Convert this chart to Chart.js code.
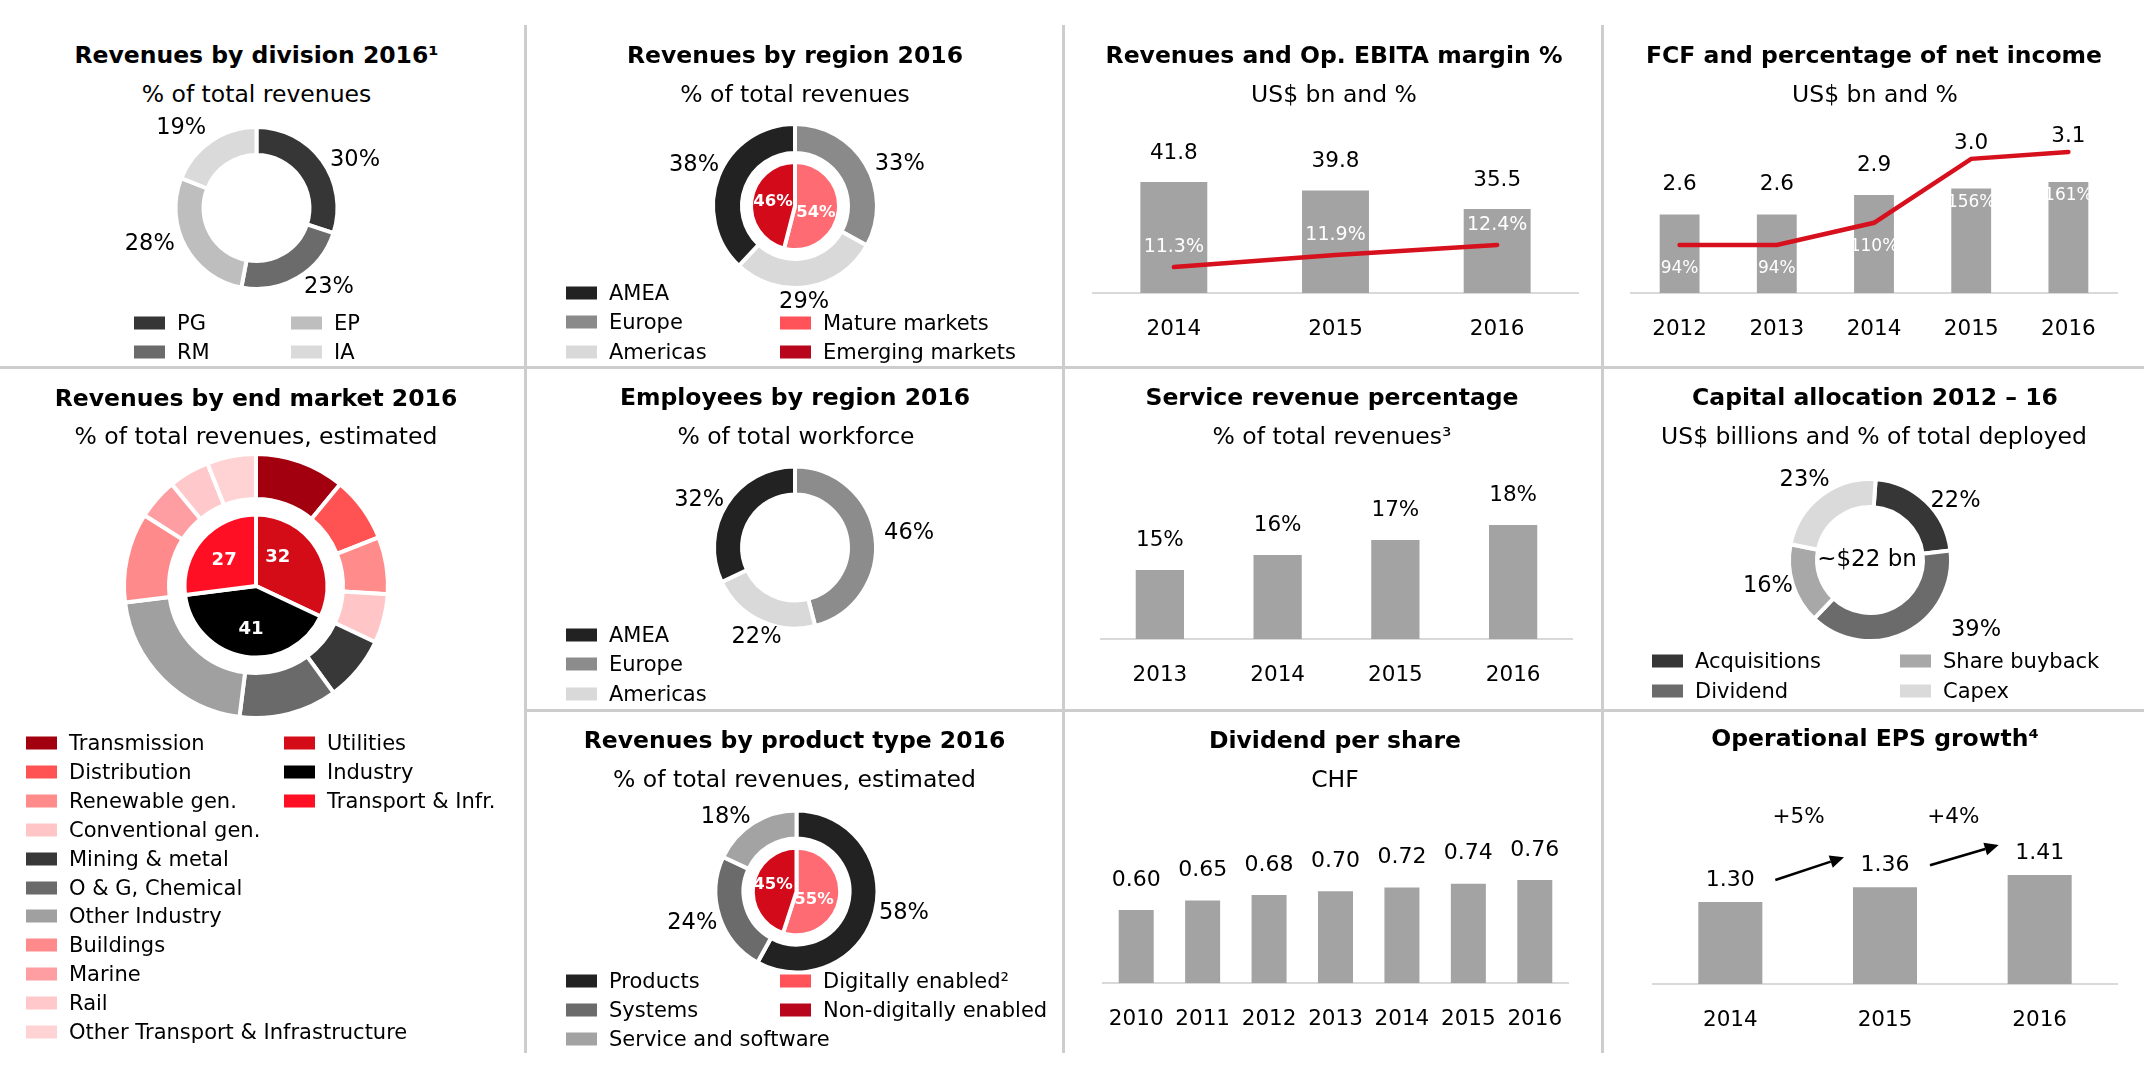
<!DOCTYPE html>
<html>
<head>
<meta charset="utf-8">
<title>Key figures 2016</title>
<script src="https://cdn.jsdelivr.net/npm/chart.js@4.4.1/dist/chart.umd.min.js"></script>
<style>
  html, body { margin:0; padding:0; background:#ffffff; }
  body { position:relative; width:2144px; height:1082px; overflow:hidden; font-family:"DejaVu Sans", sans-serif; color:#000; }
  canvas { position:absolute; left:0; top:0; }
  .ttl, .sub { position:absolute; white-space:nowrap; transform:translate(-50%,-50%); line-height:1; font-size:23.5px; }
  .ttl { font-weight:bold; }
  .lg { position:absolute; white-space:nowrap; transform:translateY(-50%); line-height:1; font-size:21px; display:flex; align-items:center; }
  .sw { display:inline-block; width:31px; height:13px; margin-right:12px; flex:none; }
  .rule { position:absolute; background:#cdcdcd; }
</style>
</head>
<body>
<div class="rule" style="left:524px;top:25px;width:3px;height:1028px"></div>
<div class="rule" style="left:1062px;top:25px;width:3px;height:1028px"></div>
<div class="rule" style="left:1601px;top:25px;width:3px;height:1028px"></div>
<div class="rule" style="left:0px;top:366px;width:2144px;height:3px"></div>
<div class="rule" style="left:524px;top:709px;width:1620px;height:3px"></div>
<script>
// ---------------- DATA ----------------
const divisionLabels = ['PG', 'RM', 'EP', 'IA'];
const divisionValues = [30, 23, 28, 19];

const regionLabels = ['Europe', 'Americas', 'AMEA'];
const regionValues = [33, 29, 38];
const marketTypeLabels = ['Mature markets', 'Emerging markets'];
const marketTypeValues = [54, 46];

const ebitaYears = ['2014', '2015', '2016'];
const revenuesBn = [41.8, 39.8, 35.5];
const ebitaMarginPct = [11.3, 11.9, 12.4];

const fcfYears = ['2012', '2013', '2014', '2015', '2016'];
const fcfBn = [2.6, 2.6, 2.9, 3.0, 3.1];
const fcfPctOfNetIncome = [94, 94, 110, 156, 161];

const endMarketLabels = ['Transmission', 'Distribution', 'Renewable gen.', 'Conventional gen.', 'Mining & metal',
  'O & G, Chemical', 'Other Industry', 'Buildings', 'Marine', 'Rail', 'Other Transport & Infrastructure'];
const endMarketValues = [11, 8, 7, 6, 8, 12, 21, 11, 5, 5, 6];
const endSectorLabels = ['Utilities', 'Industry', 'Transport & Infr.'];
const endSectorValues = [32, 41, 27];

const employeeLabels = ['Europe', 'Americas', 'AMEA'];
const employeeValues = [46, 22, 32];

const serviceYears = ['2013', '2014', '2015', '2016'];
const servicePct = [15, 16, 17, 18];

const capitalLabels = ['Acquisitions', 'Dividend', 'Share buyback', 'Capex'];
const capitalPct = [22, 39, 16, 23];
const capitalTotalText = '~$22 bn';

const productLabels = ['Products', 'Systems', 'Service and software'];
const productValues = [58, 24, 18];
const digitalLabels = ['Digitally enabled\u00B2', 'Non-digitally enabled'];
const digitalValues = [55, 45];

const dividendYears = ['2010', '2011', '2012', '2013', '2014', '2015', '2016'];
const dividendChf = [0.60, 0.65, 0.68, 0.70, 0.72, 0.74, 0.76];

const epsYears = ['2014', '2015', '2016'];
const epsValues = [1.30, 1.36, 1.41];
const epsGrowthLabels = ['+5%', '+4%'];

// ---------------- STYLE ----------------
const W = 2144, H = 1082;
const BAR = '#a3a3a3', RED = '#d6101d', AXIS = '#d9d9d9';
const FF = '"DejaVu Sans", sans-serif';
const font = (s, b) => (b ? 'bold ' : '') + s + 'px ' + FF;

Chart.defaults.font.family = FF;
Chart.defaults.color = '#000';
Chart.defaults.animation = false;
Chart.defaults.responsive = false;
Chart.defaults.maintainAspectRatio = false;
Chart.defaults.devicePixelRatio = 1;
Chart.defaults.events = [];
Chart.defaults.plugins.legend.display = false;
Chart.defaults.plugins.tooltip.enabled = false;

function newCanvas() {
  const c = document.createElement('canvas');
  c.width = W; c.height = H;
  c.style.width = W + 'px'; c.style.height = H + 'px';
  document.body.appendChild(c);
  return c;
}
function txt(ctx, s, x, y, f, color) {
  ctx.save();
  ctx.font = f; ctx.fillStyle = color;
  ctx.textAlign = 'center'; ctx.textBaseline = 'middle';
  ctx.fillText(s, x, y);
  ctx.restore();
}
function htmlText(cls, x, y, s) {
  const d = document.createElement('div');
  d.className = cls; d.style.left = x + 'px'; d.style.top = y + 'px';
  d.textContent = s;
  document.body.appendChild(d);
}
function legend(x, y0, step, items) {
  items.forEach((it, i) => {
    const d = document.createElement('div');
    d.className = 'lg';
    d.style.left = x + 'px'; d.style.top = (y0 + i * step) + 'px';
    const sw = document.createElement('span');
    sw.className = 'sw'; sw.style.background = it[1];
    d.appendChild(sw);
    d.appendChild(document.createTextNode(it[0]));
    document.body.appendChild(d);
  });
}

// label spec: {ds, texts, dist (number or array), nudge (deg array), font, color}
function arcLabelPlugin(specs, centerText) {
  return {
    id: 'arcLabels',
    afterDatasetsDraw(chart) {
      const ctx = chart.ctx;
      specs.forEach(s => {
        chart.getDatasetMeta(s.ds).data.forEach((arc, i) => {
          const p = arc.getProps(['x', 'y', 'startAngle', 'endAngle']);
          const a = (p.startAngle + p.endAngle) / 2 + ((s.nudge ? s.nudge[i] : 0) * Math.PI / 180);
          const d = Array.isArray(s.dist) ? s.dist[i] : s.dist;
          txt(ctx, s.texts[i], p.x + d * Math.cos(a), p.y + d * Math.sin(a), s.font, s.color);
        });
      });
      if (centerText) {
        const a0 = chart.getDatasetMeta(0).data[0];
        txt(ctx, centerText, a0.x - 3, a0.y, font(23), '#000');
      }
    }
  };
}

function doughnut(cfg) {
  const a = cfg.R + 12;
  return new Chart(newCanvas(), {
    type: 'doughnut',
    data: { datasets: cfg.datasets },
    options: {
      radius: cfg.R,
      cutout: cfg.cutout || 0,
      rotation: cfg.rotation || 0,
      layout: { padding: { left: cfg.cx - a, right: W - cfg.cx - a, top: cfg.cy - a, bottom: H - cfg.cy - a } }
    },
    plugins: [arcLabelPlugin(cfg.labels, cfg.centerText)]
  });
}
const ring = (data, colors, weight) => ({ data, backgroundColor: colors, borderColor: '#ffffff', borderWidth: 4, weight });
const spacer = (weight) => ({ data: [1], backgroundColor: 'rgba(0,0,0,0)', borderWidth: 0, weight });
const pct = v => v + '%';

function xAxis() {
  return {
    type: 'category', offset: true,
    grid: { display: true, color: 'rgba(0,0,0,0)', drawTicks: false, drawOnChartArea: false },
    border: { display: true, color: AXIS, width: 2 },
    ticks: { font: { size: 21.5 }, color: '#000', padding: 24, maxRotation: 0, autoSkip: false },
    afterFit(s) { s.height = 64; }
  };
}
function barPadding(x1, x2, top, base) {
  return { left: x1, right: W - x2, top: top, bottom: H - base - 64 };
}

// ---------------- PANEL 1: Revenues by division ----------------
htmlText('ttl', 256.5, 56, 'Revenues by division 2016\u00B9');
htmlText('sub', 256.5, 95, '% of total revenues');
doughnut({
  cx: 256.5, cy: 208, R: 81, cutout: '65.4%',
  datasets: [ring(divisionValues, ['#363636', '#6b6b6b', '#bebebe', '#dadada'])],
  labels: [{ ds: 0, texts: divisionValues.map(pct), dist: [109.6, 107, 112.7, 110], nudge: [10, -12, 10, -9], font: font(22.5), color: '#000' }]
});
legend(134, 322.5, 29.5, [[divisionLabels[0], '#363636'], [divisionLabels[1], '#6b6b6b']]);
legend(291, 322.5, 29.5, [[divisionLabels[2], '#bebebe'], [divisionLabels[3], '#dadada']]);

// ---------------- PANEL 2: Revenues by region ----------------
htmlText('ttl', 795, 56, 'Revenues by region 2016');
htmlText('sub', 795, 95, '% of total revenues');
doughnut({
  cx: 795, cy: 206, R: 82,
  datasets: [
    ring(regionValues, ['#8a8a8a', '#d9d9d9', '#222222'], 29),
    spacer(9),
    ring(marketTypeValues, ['#ff6b73', '#d30a19'], 44)
  ],
  labels: [
    { ds: 0, texts: regionValues.map(pct), dist: [112.7, 96.4, 109], nudge: [9, 3.6, 0.5], font: font(22.5), color: '#000' },
    { ds: 2, texts: marketTypeValues.map(pct), dist: [22, 22.4], nudge: [11, 3], font: font(16.5, true), color: '#fff' }
  ]
});
legend(566, 293, 29.4, [[regionLabels[2], '#222222'], [regionLabels[0], '#8a8a8a'], [regionLabels[1], '#d9d9d9']]);
legend(780, 322.5, 29.4, [[marketTypeLabels[0], '#ff5259'], [marketTypeLabels[1], '#b8061c']]);

// ---------------- PANEL 3: Revenues and Op. EBITA margin ----------------
htmlText('ttl', 1334, 56, 'Revenues and Op. EBITA margin %');
htmlText('sub', 1334, 95, 'US$ bn and %');
new Chart(newCanvas(), {
  type: 'bar',
  data: {
    labels: ebitaYears,
    datasets: [
      { type: 'line', data: ebitaMarginPct, yAxisID: 'y2', borderColor: RED, borderWidth: 4.5, pointRadius: 0, tension: 0, order: 0, borderCapStyle: 'round' },
      { type: 'bar', data: revenuesBn, yAxisID: 'y', backgroundColor: BAR, barPercentage: 0.414, categoryPercentage: 1, order: 1 }
    ]
  },
  options: {
    layout: { padding: barPadding(1093, 1578, 120, 293) },
    scales: {
      x: xAxis(),
      y: { display: false, min: 16, max: 56.2 },
      y2: { display: false, position: 'right', min: 10, max: 18.65 }
    }
  },
  plugins: [{
    id: 'p3', afterDatasetsDraw(chart) {
      chart.getDatasetMeta(1).data.forEach((b, i) => txt(chart.ctx, revenuesBn[i].toFixed(1), b.x, b.y - 29, font(21.5), '#000'));
      chart.getDatasetMeta(0).data.forEach((p, i) => txt(chart.ctx, ebitaMarginPct[i].toFixed(1) + '%', p.x, p.y - 20, font(19), '#fff'));
    }
  }]
});

// ---------------- PANEL 4: FCF ----------------
htmlText('ttl', 1874, 56, 'FCF and percentage of net income');
htmlText('sub', 1875, 95, 'US$ bn and %');
new Chart(newCanvas(), {
  type: 'bar',
  data: {
    labels: fcfYears,
    datasets: [
      { type: 'line', data: fcfPctOfNetIncome, yAxisID: 'y2', borderColor: RED, borderWidth: 4.5, pointRadius: 0, tension: 0, order: 0, borderCapStyle: 'round' },
      { type: 'bar', data: fcfBn, yAxisID: 'y', backgroundColor: BAR, barPercentage: 0.41, categoryPercentage: 1, order: 1 }
    ]
  },
  options: {
    layout: { padding: barPadding(1631, 2117, 120, 293) },
    scales: {
      x: xAxis(),
      y: { display: false, min: 1.4, max: 4.047 },
      y2: { display: false, position: 'right', min: 59.5, max: 183.96 }
    }
  },
  plugins: [{
    id: 'p4', afterDatasetsDraw(chart) {
      const bars = chart.getDatasetMeta(1).data, pts = chart.getDatasetMeta(0).data;
      bars.forEach((b, i) => {
        const p = pts[i];
        txt(chart.ctx, fcfBn[i].toFixed(1), b.x, Math.min(b.y - 30, p.y - 15), font(21.5), '#000');
        txt(chart.ctx, fcfPctOfNetIncome[i] + '%', b.x, Math.max(p.y + 24, b.y + 14), font(17), '#fff');
      });
    }
  }]
});

// ---------------- PANEL 5: End market ----------------
htmlText('ttl', 256, 398.5, 'Revenues by end market 2016');
htmlText('sub', 256, 437, '% of total revenues, estimated');
const endMarketColors = ['#a3000f', '#ff5252', '#ff8b8b', '#ffc5c7', '#383838', '#6a6a6a', '#a0a0a0', '#ff8a8c', '#ff9ea2', '#ffc8cb', '#ffd2d4'];
const endSectorColors = ['#d40c18', '#000000', '#ff0f24'];
doughnut({
  cx: 256, cy: 586, R: 132,
  datasets: [
    ring(endMarketValues, endMarketColors, 45),
    spacer(15.5),
    ring(endSectorValues, endSectorColors, 71.5)
  ],
  labels: [
    { ds: 2, texts: endSectorValues.map(String), dist: [35.6, 44, 41], nudge: [-20, -2.5, -2.4], font: font(18, true), color: '#fff' }
  ]
});
legend(26, 743, 28.9, endMarketLabels.map((l, i) => [l, endMarketColors[i]]));
legend(284, 743, 28.9, endSectorLabels.map((l, i) => [l, endSectorColors[i]]));

// ---------------- PANEL 6: Employees ----------------
htmlText('ttl', 795, 398, 'Employees by region 2016');
htmlText('sub', 796, 437, '% of total workforce');
doughnut({
  cx: 795, cy: 547.5, R: 81, cutout: '65.4%',
  datasets: [ring(employeeValues, ['#8c8c8c', '#d9d9d9', '#222222'])],
  labels: [{ ds: 0, texts: employeeValues.map(pct), dist: [115, 97.6, 107], nudge: [0, -2, -6], font: font(22.5), color: '#000' }]
});
legend(566, 635, 29.3, [[employeeLabels[2], '#222222'], [employeeLabels[0], '#8c8c8c'], [employeeLabels[1], '#d9d9d9']]);

// ---------------- PANEL 7: Service revenue ----------------
htmlText('ttl', 1332, 398, 'Service revenue percentage');
htmlText('sub', 1332, 437, '% of total revenues\u00B3');
new Chart(newCanvas(), {
  type: 'bar',
  data: { labels: serviceYears, datasets: [{ data: servicePct, backgroundColor: BAR, barPercentage: 0.41, categoryPercentage: 1 }] },
  options: {
    layout: { padding: barPadding(1101, 1572, 480, 639) },
    scales: { x: xAxis(), y: { display: false, min: 10.4, max: 21 } }
  },
  plugins: [{
    id: 'p7', afterDatasetsDraw(chart) {
      chart.getDatasetMeta(0).data.forEach((b, i) => txt(chart.ctx, servicePct[i] + '%', b.x, b.y - 30, font(21.5), '#000'));
    }
  }]
});

// ---------------- PANEL 8: Capital allocation ----------------
htmlText('ttl', 1875, 398, 'Capital allocation 2012 \u2013 16');
htmlText('sub', 1874, 437, 'US$ billions and % of total deployed');
doughnut({
  cx: 1870, cy: 560, R: 81, cutout: '65.4%', rotation: 4,
  datasets: [ring(capitalPct, ['#363636', '#6b6b6b', '#a8a8a8', '#dadada'])],
  labels: [{ ds: 0, texts: capitalPct.map(pct), dist: [103.7, 127, 105.5, 103], nudge: [12, -30, 3, -2], font: font(22.5), color: '#000' }],
  centerText: capitalTotalText
});
legend(1652, 660.5, 30, [[capitalLabels[0], '#363636'], [capitalLabels[1], '#6b6b6b']]);
legend(1900, 660.5, 30, [[capitalLabels[2], '#a8a8a8'], [capitalLabels[3], '#dadada']]);

// ---------------- PANEL 9: Product type ----------------
htmlText('ttl', 794.5, 741, 'Revenues by product type 2016');
htmlText('sub', 794.5, 780, '% of total revenues, estimated');
doughnut({
  cx: 796.5, cy: 891.5, R: 81,
  datasets: [
    ring(productValues, ['#222222', '#6b6b6b', '#a3a3a3'], 28),
    spacer(9.3),
    ring(digitalValues, ['#ff6b73', '#d30a19'], 43.7)
  ],
  labels: [
    { ds: 0, texts: productValues.map(pct), dist: [109.6, 109, 103], nudge: [-3, 1, -11], font: font(22.5), color: '#000' },
    { ds: 2, texts: digitalValues.map(pct), dist: [19.5, 24.4], nudge: [17, 6.5], font: font(16.5, true), color: '#fff' }
  ]
});
legend(566, 981, 28.8, productLabels.map((l, i) => [l, ['#222222', '#6b6b6b', '#a3a3a3'][i]]));
legend(780, 981, 28.8, [[digitalLabels[0], '#ff5259'], [digitalLabels[1], '#b8061c']]);

// ---------------- PANEL 10: Dividend ----------------
htmlText('ttl', 1335, 741, 'Dividend per share');
htmlText('sub', 1335, 780, 'CHF');
new Chart(newCanvas(), {
  type: 'bar',
  data: { labels: dividendYears, datasets: [{ data: dividendChf, backgroundColor: BAR, barPercentage: 0.527, categoryPercentage: 1 }] },
  options: {
    layout: { padding: barPadding(1103, 1568, 830, 983) },
    scales: { x: xAxis(), y: { display: false, min: 0.21, max: 1.026 } }
  },
  plugins: [{
    id: 'p10', afterDatasetsDraw(chart) {
      chart.getDatasetMeta(0).data.forEach((b, i) => txt(chart.ctx, dividendChf[i].toFixed(2), b.x, b.y - 30, font(22), '#000'));
    }
  }]
});

// ---------------- PANEL 11: EPS ----------------
htmlText('ttl', 1875, 739, 'Operational EPS growth\u2074');
function arrow(ctx, x1, y1, x2, y2) {
  ctx.save();
  ctx.strokeStyle = '#000'; ctx.fillStyle = '#000'; ctx.lineWidth = 2.6;
  const ang = Math.atan2(y2 - y1, x2 - x1), hl = 14, hw = 6.5;
  const bx = x2 - hl * Math.cos(ang), by = y2 - hl * Math.sin(ang);
  ctx.beginPath(); ctx.moveTo(x1, y1); ctx.lineTo(bx, by); ctx.stroke();
  ctx.beginPath(); ctx.moveTo(x2, y2);
  ctx.lineTo(bx - hw * Math.sin(ang), by + hw * Math.cos(ang));
  ctx.lineTo(bx + hw * Math.sin(ang), by - hw * Math.cos(ang));
  ctx.closePath(); ctx.fill();
  ctx.restore();
}
new Chart(newCanvas(), {
  type: 'bar',
  data: { labels: epsYears, datasets: [{ data: epsValues, backgroundColor: BAR, barPercentage: 0.414, categoryPercentage: 1 }] },
  options: {
    layout: { padding: barPadding(1653, 2117, 830, 984) },
    scales: { x: xAxis(), y: { display: false, min: 0.965, max: 1.5936 } }
  },
  plugins: [{
    id: 'p11', afterDatasetsDraw(chart) {
      const bars = chart.getDatasetMeta(0).data;
      const topMost = Math.min(...bars.map(b => b.y));
      bars.forEach((b, i) => txt(chart.ctx, epsValues[i].toFixed(2), b.x, b.y - 22, font(22), '#000'));
      for (let i = 0; i < bars.length - 1; i++) {
        const x1 = bars[i].x + 45, y1 = bars[i].y - 22;
        const x2 = bars[i + 1].x - 41, y2 = bars[i + 1].y - 30;
        arrow(chart.ctx, x1, y1, x2, y2);
        txt(chart.ctx, epsGrowthLabels[i], (x1 + x2) / 2 - 11, topMost - 58, font(21.5), '#000');
      }
    }
  }]
});
</script>
</body>
</html>
